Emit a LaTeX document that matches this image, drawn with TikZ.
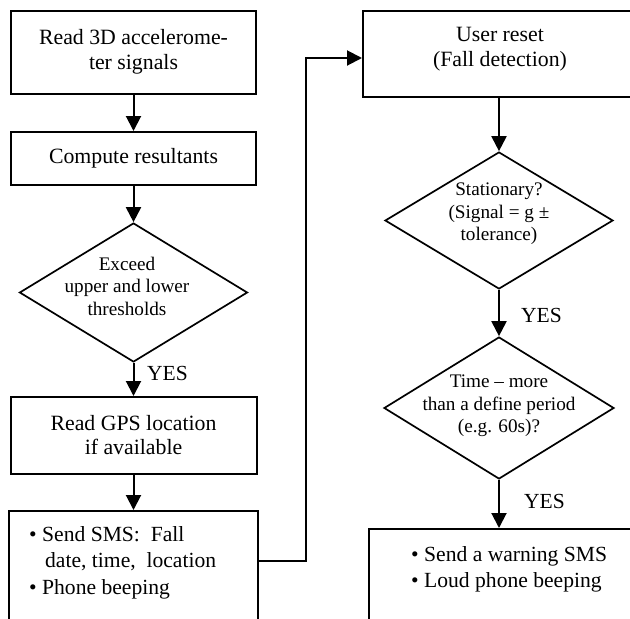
\documentclass[tikz,border=0pt]{standalone}
\usepackage{fontspec}
\setmainfont{Liberation Serif}
\usetikzlibrary{shapes.geometric,arrows.meta}
\begin{document}
\begin{tikzpicture}[x=1pt,y=-1pt,
  box/.style={draw, rectangle, line width=2pt, inner sep=0pt},
  dia/.style={draw, diamond, line width=1.7pt, inner sep=0pt, minimum width=228pt},
  txt/.style={align=center, font=\fontsize{21.8}{24.5}\selectfont, inner sep=0pt},
  dtxt/.style={align=center, font=\fontsize{19.2}{22.5}\selectfont, inner sep=0pt},
  ltxt/.style={align=left, font=\fontsize{21.6}{26.5}\selectfont, inner sep=0pt, anchor=north west},
  yes/.style={font=\fontsize{21.5}{24}\selectfont, inner sep=0pt, anchor=west},
  arr/.style={line width=2pt, -{Triangle[length=15pt,width=15pt]}}
]
\useasboundingbox (0,0) rectangle (630,619);
\clip (0,0) rectangle (630,619);

% left column
\node[box, minimum width=245pt, minimum height=83pt] (b1) at (133.5,52.5) {};
\node[txt] (t1) at (133.5,52) {Read 3D accelerome-\\ter signals};
\node[box, minimum width=245pt, minimum height=53pt] (b2) at (133.5,158.5) {};
\node[txt] (t2) at (133.5,158) {Compute resultants};
\node[dia, minimum height=139pt] (d1) at (133.5,292.5) {};
\node[dtxt] (dt1) at (127,286) {Exceed\\upper and lower\\thresholds};
\node[yes] (y1) at (147,373) {YES};
\node[box, minimum width=246pt, minimum height=77pt] (b3) at (133.5,435.5) {};
\node[txt] (t3) at (133.5,435) {Read GPS location\\ if available};
\node[box, minimum width=249pt, minimum height=200pt] (b4) at (133.5,611) {};
\node[ltxt] (t4) at (29,526) {\textbullet\ Send SMS:\ \ Fall\\\hspace*{16pt}date, time,\ \ location\\\textbullet\ Phone beeping};

% right column
\node[box, minimum width=272pt, minimum height=86pt] (ur) at (499,54) {};
\node[txt] (ut) at (500,49) {User reset\\(Fall detection)};
\node[dia, minimum height=137pt] (d2) at (499,220.5) {};
\node[dtxt] (dt2) at (499,214) {Stationary?\\(Signal = g ±\\tolerance)};
\node[yes] (y2) at (521,315) {YES};
\node[dia, minimum height=142pt, minimum width=230pt] (d3) at (499,408) {};
\node[dtxt] (dt3) at (499,406) {Time -- more\\than a define period\\(e.g. 60s)?};
\node[yes] (y3) at (524,501) {YES};
\node[box, minimum width=272pt, minimum height=200pt] (b5) at (505,629) {};
\node[ltxt] (t5) at (411,546) {\textbullet\ Send a warning SMS\\\textbullet\ Loud phone beeping};

% connectors
\draw[arr] (b1.south) -- (b2.north);
\draw[arr] (b2.south) -- (d1.north);
\draw[arr] (d1.south) -- (b3.north);
\draw[arr] (b3.south) -- (b4.north);
\coordinate (s1) at (258,561);
\coordinate (s2) at (306,58);
\draw[arr] (s1) -| (s2) -- (s2 -| ur.west);
\draw[arr] (ur.south) -- (d2.north);
\draw[arr] (d2.south) -- (d3.north);
\draw[arr] (d3.south) -- (d3.south |- b5.north);
\end{tikzpicture}
\end{document}
